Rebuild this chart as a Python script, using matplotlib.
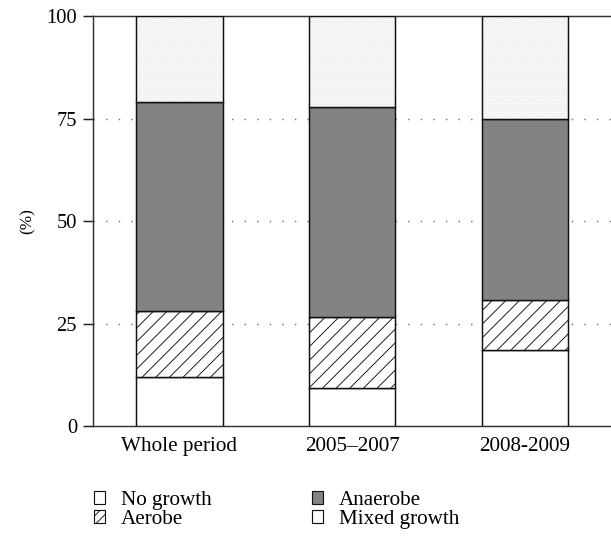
import matplotlib
matplotlib.use("Agg")
import matplotlib.pyplot as plt
from matplotlib.patches import Patch
import numpy as np

categories = ['Whole period', '2005\u20132007', '2008-2009']
no_growth = [12.0, 9.3, 18.5]
aerobe = [16.0, 17.4, 12.3]
anaerobe = [51.0, 51.1, 44.1]
mixed = [21.0, 22.2, 25.1]
series_labels = ['No growth', 'Aerobe', 'Anaerobe', 'Mixed growth']
yticks = [0, 25, 50, 75, 100]

plt.rcParams['font.family'] = ['Liberation Serif', 'DejaVu Serif']
plt.rcParams['hatch.linewidth'] = 0.8

DPI = 82
fig = plt.figure(figsize=(611 / DPI, 537 / DPI), dpi=DPI)
ax = fig.add_axes([93 / 611, 1 - 426 / 537, 1 - 93 / 611, (426 - 16) / 537])

x = np.arange(len(categories))
w = 0.5
ec = '#111111'
lw = 1.3

b0 = np.zeros(len(categories))
ax.bar(x, no_growth, w, bottom=b0, facecolor='white', edgecolor=ec, linewidth=lw, zorder=3)
b1 = b0 + np.array(no_growth)
ax.bar(x, aerobe, w, bottom=b1, facecolor='white', edgecolor=ec, linewidth=lw, hatch='//', zorder=3)
b2 = b1 + np.array(aerobe)
ax.bar(x, anaerobe, w, bottom=b2, facecolor='#838383', edgecolor=ec, linewidth=lw, zorder=3)
b3 = b2 + np.array(anaerobe)
ax.bar(x, mixed, w, bottom=b3, facecolor='#fbfbfb', edgecolor='#e4e4e4', linewidth=0, hatch='......', zorder=3)
ax.bar(x, mixed, w, bottom=b3, fill=False, edgecolor=ec, linewidth=lw, zorder=4)

ax.set_xlim(-0.5, 2.5)
ax.set_ylim(0, 100)
ax.set_yticks(yticks)
ax.set_yticklabels([str(t) for t in yticks], fontsize=18)
ax.set_xticks(x)
ax.set_xticklabels(categories, fontsize=18.5)
ax.tick_params(axis='x', length=0, pad=10)
ax.tick_params(axis='y', length=9, width=1.3, pad=5, color='#222222')

for s in ['left', 'top', 'bottom']:
    ax.spines[s].set_linewidth(1.3)
    ax.spines[s].set_color('#333333')
ax.spines['right'].set_visible(False)

for g in [25, 50, 75]:
    ax.axhline(g, color='#7a7a7a', linewidth=1.3, linestyle=(0, (1, 7.5)), zorder=1)

ax.set_ylabel('(%)', fontsize=15, labelpad=9)

handles = [
    Patch(facecolor='white', edgecolor=ec, linewidth=1.0),
    Patch(facecolor='white', edgecolor=ec, linewidth=1.0, hatch='///'),
    Patch(facecolor='#838383', edgecolor=ec, linewidth=1.0),
    Patch(facecolor='#fbfbfb', edgecolor=ec, linewidth=1.0),
]
fig.legend(handles, series_labels, ncol=2, loc='upper left',
           bbox_to_anchor=(94 / 611, 1 - 491 / 537), frameon=False,
           fontsize=18.5, handlelength=0.52, handleheight=0.52,
           handletextpad=0.75, columnspacing=4.78, labelspacing=0.0,
           borderpad=0, borderaxespad=0)

fig.savefig('out.png', dpi=DPI)
